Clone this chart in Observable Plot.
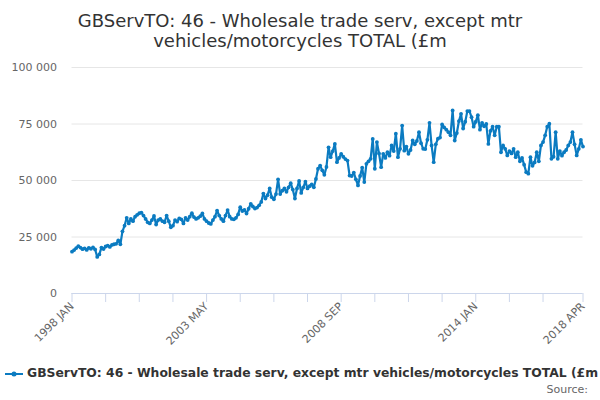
<!DOCTYPE html>
<html>
<head>
<meta charset="utf-8">
<script src="https://cdn.jsdelivr.net/npm/d3@7"></script>
<script src="https://cdn.jsdelivr.net/npm/@observablehq/plot@0.6"></script>
<style>
  html, body { margin: 0; padding: 0; background: #fff; }
  body { width: 600px; height: 400px; position: relative; overflow: hidden; font-family: "DejaVu Sans", sans-serif; }
  #title { position: absolute; left: 0; top: 11px; width: 600px; text-align: center; font-size: 18px; line-height: 20px; color: #333; }
  #chart { position: absolute; left: 0; top: 51px; }
  #legend { position: absolute; left: 5px; top: 365px; width: 595px; white-space: nowrap; overflow: hidden; font-size: 12.35px; font-weight: bold; color: #333; line-height: 16px; }
  #legend svg { vertical-align: middle; margin-right: 4px; }
  #source { position: absolute; right: 12px; top: 383px; font-size: 11px; color: #666; }
</style>
</head>
<body>
<div id="title">GBServTO: 46 - Wholesale trade serv, except mtr<br>vehicles/motorcycles TOTAL (£m</div>
<div id="chart"></div>
<div id="legend"><svg width="18" height="10"><line x1="0" y1="5" x2="18" y2="5" stroke="#0b7bc1" stroke-width="2"/><circle cx="9" cy="5" r="2.5" fill="#0b7bc1"/></svg>GBServTO: 46 - Wholesale trade serv, except mtr vehicles/motorcycles TOTAL (£m</div>
<div id="source">Source:</div>
<script>
const monthNames = ["JAN","FEB","MAR","APR","MAY","JUN","JUL","AUG","SEP","OCT","NOV","DEC"];
const startYear = 1998;
const v1998 = [18500, 19200, 20100, 21000, 20300, 19600, 20000, 19300, 20200, 19800, 20400, 19500];
const v1999 = [16200, 17300, 20300, 19700, 20800, 21200, 20600, 21500, 21800, 22000, 23500, 21800];
const v2000 = [27500, 30000, 33500, 31000, 33000, 32000, 34000, 34800, 35500, 35800, 34500, 33000];
const v2001 = [31500, 31000, 32500, 34300, 30500, 32500, 33000, 32000, 31500, 34500, 32000, 29300];
const v2002 = [30000, 32500, 31800, 33200, 32800, 31000, 33500, 32500, 34000, 35500, 33800, 33000];
const v2003 = [33500, 34200, 35400, 33000, 32000, 31200, 30800, 32500, 34000, 36700, 34500, 33000];
const v2004 = [32000, 34500, 36900, 34000, 33000, 32800, 33500, 35000, 38200, 36500, 37000, 35400];
const v2005 = [37500, 39700, 38500, 37600, 38000, 39000, 40500, 44200, 42000, 43500, 46500, 42600];
const v2006 = [41700, 44000, 50500, 44000, 45500, 46500, 45000, 47000, 48800, 46000, 42000, 46500];
const v2007 = [49800, 44500, 47000, 49500, 46500, 47500, 48300, 47000, 50700, 55200, 56600, 54500];
const v2008 = [52500, 56000, 64700, 60300, 63000, 66200, 58100, 60000, 61800, 60500, 59500, 58800];
const v2009 = [52200, 52000, 53500, 50500, 47800, 52000, 55700, 49300, 57400, 58500, 59600, 68400];
const v2010 = [55200, 67000, 62000, 55900, 61800, 60000, 62500, 61000, 65500, 63000, 70700, 60300];
const v2011 = [64000, 74300, 63200, 65000, 61800, 63500, 67700, 66000, 67500, 71400, 66500, 64000];
const v2012 = [63900, 68000, 75500, 65500, 58100, 66000, 68500, 69000, 74800, 73500, 72500, 71400];
const v2013 = [70000, 81000, 67700, 71000, 76300, 79500, 73000, 76000, 80700, 80700, 78000, 73800];
const v2014 = [76000, 78900, 72500, 75500, 74000, 75000, 66200, 72000, 73800, 70000, 73800, 73800];
const v2015 = [62500, 65500, 64000, 61100, 63000, 62000, 64000, 60300, 62500, 58500, 60000, 57000];
const v2016 = [53700, 53000, 60300, 56500, 58000, 62500, 58500, 65500, 67000, 70000, 73800, 75100];
const v2017 = [59600, 60500, 71400, 59600, 63000, 61000, 62500, 63500, 65500, 67000, 71400, 66000];
const v2018 = [61100, 64000, 68000, 65000];
const yTicks = [0, 25000, 50000, 75000, 100000];
const xTickIdx = [0, 16, 32, 48, 64, 80, 96, 112, 128, 144, 160, 176, 192, 208, 224, 243];
const xLabelIdx = [0, 64, 128, 192, 243];

const years = [v1998, v1999, v2000, v2001, v2002, v2003, v2004, v2005, v2006, v2007, v2008, v2009, v2010, v2011, v2012, v2013, v2014, v2015, v2016, v2017, v2018];
const data = [];
years.forEach((arr, yi) => arr.forEach((v, mi) => data.push({i: data.length, label: (startYear + yi) + " " + monthNames[mi], v})));
const labelOf = i => xLabelIdx.includes(i) ? data[i].label : "";
const fmt = d => d3.format(",")(d).replace(/,/g, " ");
const col = "#0b7bc1";

const chart = Plot.plot({
  width: 600,
  height: 302,
  marginTop: 16,
  marginBottom: 60,
  marginLeft: 71.5,
  marginRight: 17.5,
  style: {fontFamily: "DejaVu Sans, sans-serif", fontSize: "11px", color: "#666", background: "#fff"},
  x: {domain: [0, data.length - 1]},
  y: {domain: [0, 100000]},
  marks: [
    Plot.gridY(yTicks, {stroke: "#e6e6e6", strokeOpacity: 1}),
    Plot.axisY(yTicks, {tickSize: 0, tickPadding: 15, tickFormat: fmt, fill: "#666", label: null}),
    Plot.ruleY([0], {stroke: "#ccd6eb"}),
    Plot.axisX(xTickIdx, {tickSize: 9, stroke: "#ccd6eb", strokeOpacity: 1, tickRotate: -45, tickFormat: labelOf, tickPadding: 2, fill: "#666", label: null}),
    Plot.line(data, {x: "i", y: "v", stroke: col, strokeWidth: 2.2}),
    Plot.dot(data, {x: "i", y: "v", r: 1.9, fill: col})
  ]
});
document.getElementById("chart").appendChild(chart);
</script>
</body>
</html>
